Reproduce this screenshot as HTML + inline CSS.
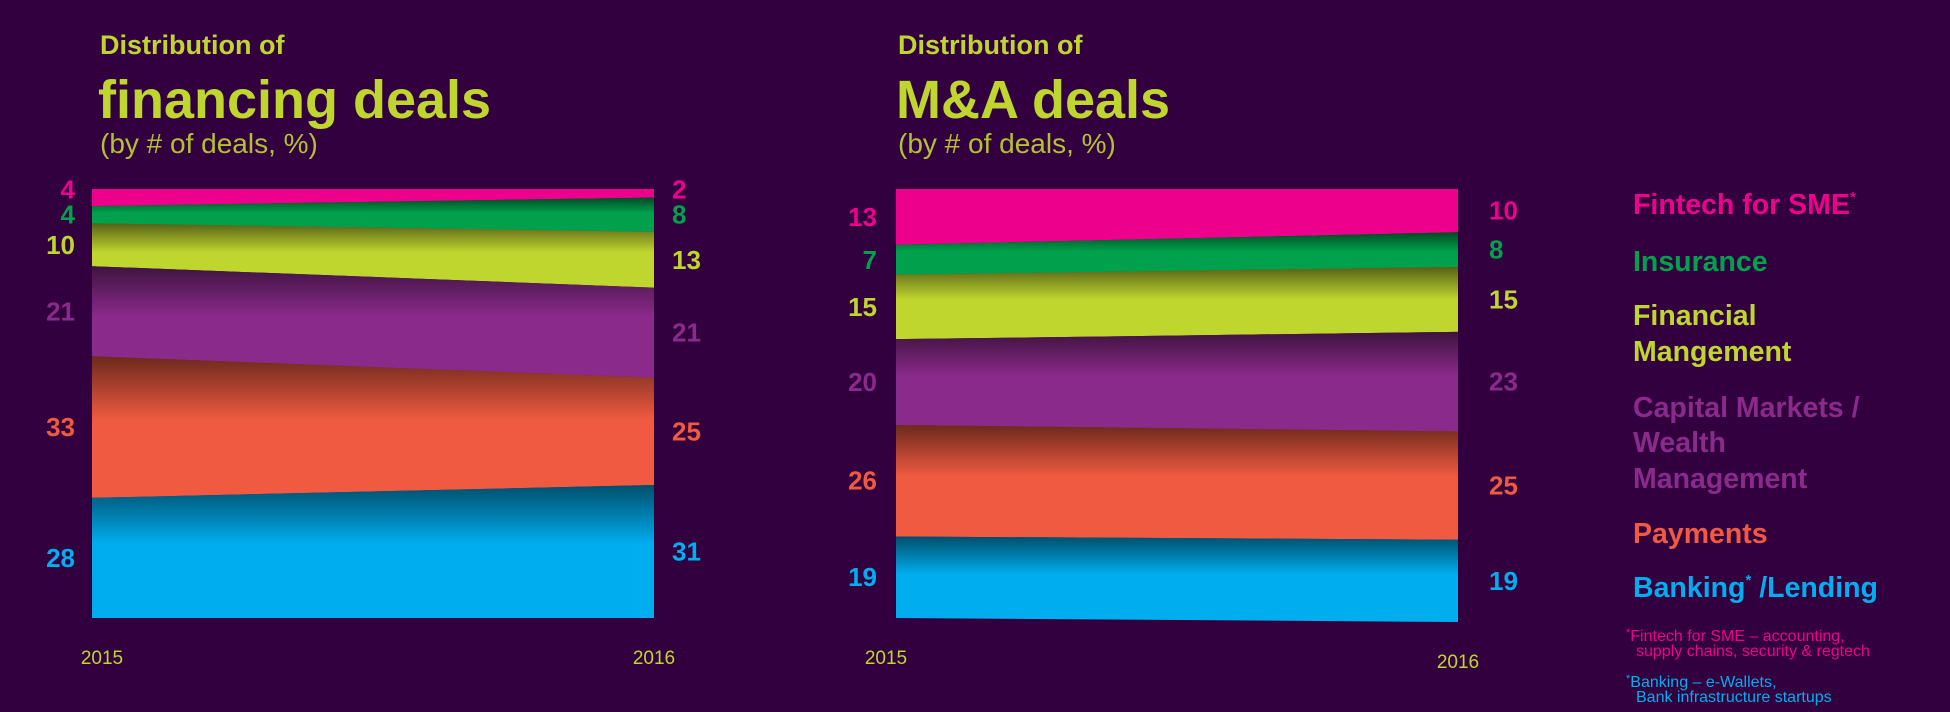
<!DOCTYPE html>
<html><head><meta charset="utf-8"><style>
body{margin:0;background:#33003f;width:1950px;height:712px;overflow:hidden;font-family:"Liberation Sans",sans-serif}
svg{position:absolute;left:0;top:0}
</style></head><body>
<svg id="s" width="1950" height="712">
<defs>
<linearGradient id="shade" x1="0" y1="0" x2="0" y2="1">
<stop offset="0" stop-color="#000" stop-opacity="0.55"/>
<stop offset="0.45" stop-color="#000" stop-opacity="0"/>
<stop offset="1" stop-color="#000" stop-opacity="0"/>
</linearGradient>
</defs>
<g fill="#bfd62f">
<text x="100" y="54" font-size="27" font-weight="bold">Distribution of</text>
<text x="98" y="118" font-size="54" font-weight="bold">financing deals</text>
<text x="100" y="153" font-size="28" font-weight="300" opacity="0.9">(by # of deals, %)</text>
</g>
<g fill="#bfd62f">
<text x="898" y="54" font-size="27" font-weight="bold">Distribution of</text>
<text x="896" y="118" font-size="54" font-weight="bold">M&amp;A deals</text>
<text x="898" y="153" font-size="28" font-weight="300" opacity="0.9">(by # of deals, %)</text>
</g>
<g id="charts"></g>
<g font-size="28.5" font-weight="bold">
<text x="1633" y="214" fill="#ec008c">Fintech for SME<tspan font-size="15" dy="-12">*</tspan></text>
<text x="1633" y="271" fill="#00a04c">Insurance</text>
<text x="1633" y="325" fill="#bfd62f">Financial</text>
<text x="1633" y="361" fill="#bfd62f">Mangement</text>
<text x="1633" y="417" fill="#8a2a8b">Capital Markets /</text>
<text x="1633" y="452" fill="#8a2a8b">Wealth</text>
<text x="1633" y="488" fill="#8a2a8b">Management</text>
<text x="1633" y="543" fill="#ef5a40">Payments</text>
<text x="1633" y="597" fill="#00aeef">Banking<tspan font-size="15" dy="-12">*</tspan><tspan dy="12"> /Lending</tspan></text>
</g>
<g font-size="16">
<text x="1626" y="641" fill="#ec008c"><tspan font-size="11" dy="-5">*</tspan><tspan dy="5">Fintech for SME – accounting,</tspan></text>
<text x="1636" y="656" fill="#ec008c">supply chains, security &amp; regtech</text>
<text x="1626" y="687" fill="#00aeef"><tspan font-size="11" dy="-5">*</tspan><tspan dy="5">Banking – e-Wallets,</tspan></text>
<text x="1636" y="702" fill="#00aeef">Bank infrastructure startups</text>
</g>
</svg>
<script>
const categories=['Fintech for SME','Insurance','Financial Mangement','Capital Markets','Payments','Banking'];
const colors=['#ec008c','#00a04c','#bfd62f','#8a2a8b','#ef5a40','#00aeef'];
const years=['2015','2016'];
const fin2015=[4,4,10,21,33,28];
const fin2016=[2,8,13,21,25,31];
const ma2015=[13,7,15,20,26,19];
const ma2016=[10,8,15,23,25,19];
const NS='http://www.w3.org/2000/svg';
const root=document.getElementById('charts');
function mk(t,a,p){const e=document.createElementNS(NS,t);for(const k in a)e.setAttribute(k,a[k]);p.appendChild(e);return e;}
function spread(ys){const r=ys.slice();for(let i=r.length-2;i>=0;i--){if(r[i+1]-r[i]<25)r[i]=r[i+1]-25;}return r;}
function chart(name,x0,x1,top,bot,bot2,v0,v1,lx0,lx1,yx0,yx1){
  const g=mk('g',{},root);
  
  
  const yA=p=>top+(bot-top)*p/100, yB=p=>top+(bot2-top)*p/100;
  let c0=0,c1=0;const m0=[],m1=[];
  for(let i=0;i<categories.length;i++){
    const a0=yA(c0),b0=yB(c1),a1=yA(c0+v0[i]),b1=yB(c1+v1[i]);
    const pts=`${x0},${a0} ${x1},${b0} ${x1},${b1} ${x0},${a1}`;
    const band=mk('polygon',{points:pts,fill:colors[i]},g);
    
    
    if(i>0){mk('polygon',{points:pts,fill:'url(#shade)'},g);}
    m0.push((a0+a1)/2+9);m1.push((b0+b1)/2+9);
    c0+=v0[i];c1+=v1[i];
  }
  const p0=spread(m0),p1=spread(m1);
  for(let i=0;i<categories.length;i++){
    const t0=mk('text',{x:lx0,y:p0[i],'text-anchor':'end','font-size':26,'font-weight':'bold',fill:colors[i]},g);
    t0.textContent=v0[i];
    
    
    const t1=mk('text',{x:lx1,y:p1[i],'font-size':26,'font-weight':'bold',fill:colors[i]},g);
    t1.textContent=v1[i];
    
    
  }
  const y0=mk('text',{x:x0+(yx0||0),y:yx1[0],'text-anchor':'middle','font-size':19,fill:'#bfd62f'},g);
  y0.textContent=years[0];
  
  
  const y1=mk('text',{x:x1,y:yx1[1],'text-anchor':'middle','font-size':19,fill:'#bfd62f'},g);
  y1.textContent=years[1];
  
  
}
chart('financing-deals-chart',92,654,189,618,618,fin2015,fin2016,75,672,10,[664,664]);
chart('ma-deals-chart',896,1458,189,618,622,ma2015,ma2016,877,1489,-10,[664,668]);
</script>
</body></html>
